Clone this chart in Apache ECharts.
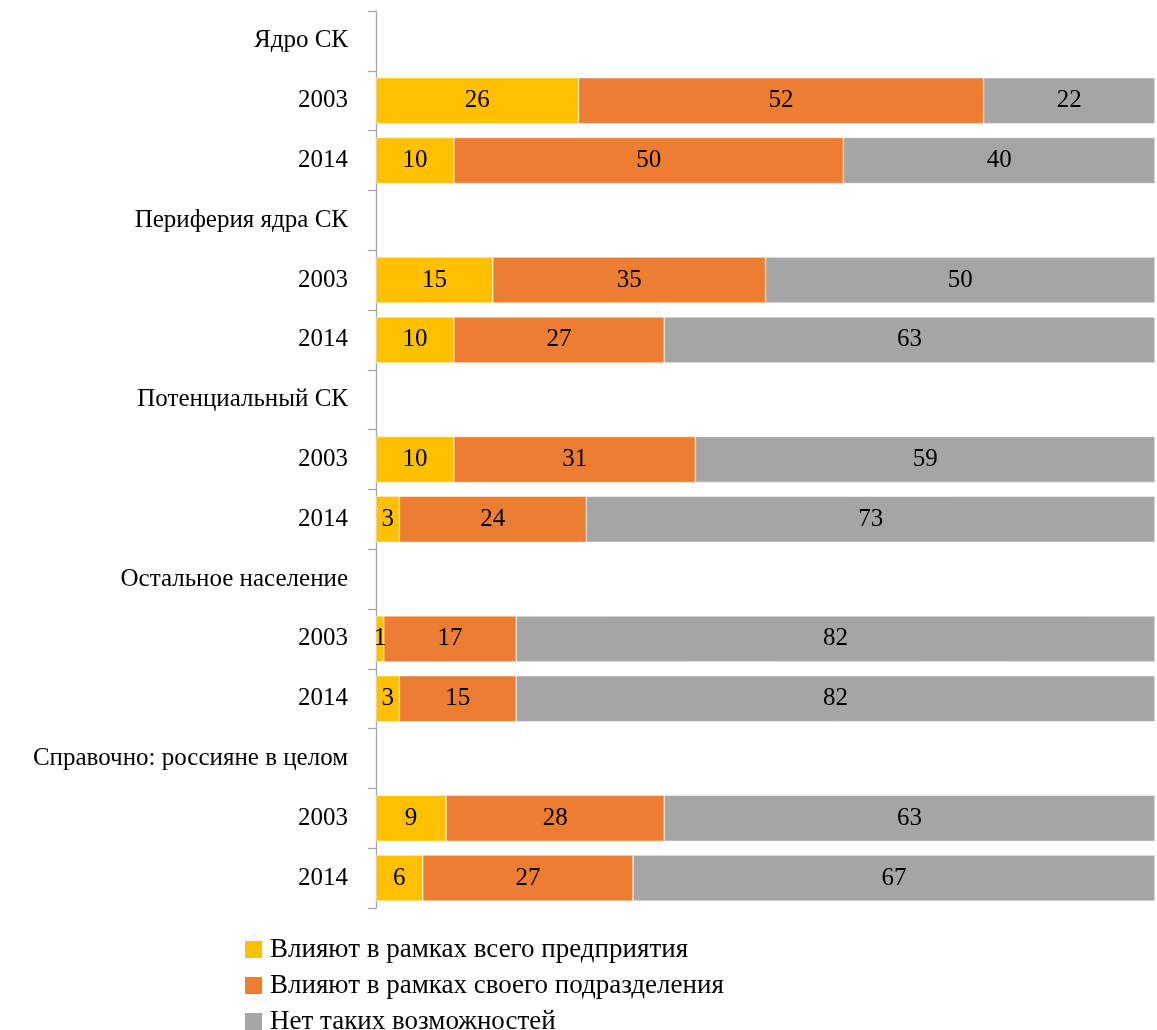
<!DOCTYPE html>
<html><head><meta charset="utf-8">
<script src="https://cdn.jsdelivr.net/npm/echarts@6/dist/echarts.min.js"></script>
<style>html,body{margin:0;padding:0;background:#fff}#c{width:1157px;height:1030px}</style>
</head><body><div id="c"></div>
<script>
const categories = ['Ядро СК','2003','2014','Периферия ядра СК','2003','2014','Потенциальный СК','2003','2014','Остальное население','2003','2014','Справочно: россияне в целом','2003','2014'];
const seriesNames = ['Влияют в рамках всего предприятия','Влияют в рамках своего подразделения','Нет таких возможностей'];
const enterprise = [null,26,10,null,15,10,null,10,3,null,1,3,null,9,6];
const department = [null,52,50,null,35,27,null,31,24,null,17,15,null,28,27];
const none = [null,22,40,null,50,63,null,59,73,null,82,82,null,63,67];
const colors = ['#FFC000','#ED7D31','#A5A5A5'];
const FONT = '"Liberation Serif", "DejaVu Serif", serif';
const chart = echarts.init(document.getElementById('c'));
const mk = (name, data, color) => ({
  name, type:'bar', stack:'s', data, barWidth:46,
  itemStyle:{color, borderColor:'#fff', borderWidth:0.5},
  label:{show:true, position:'inside', color:'#000', fontFamily:FONT, fontSize:25},
  emphasis:{disabled:true}
});
chart.setOption({
  animation:false,
  grid:{left:376, right:2, top:11, bottom:122},
  xAxis:{type:'value', min:0, max:100, show:false},
  yAxis:{type:'category', data:categories, inverse:true,
    axisLine:{show:true, lineStyle:{color:'#A6A6A6', width:1.3}},
    axisTick:{show:true, length:8, lineStyle:{color:'#A6A6A6', width:1.3}},
    axisLabel:{margin:28, color:'#000', fontFamily:FONT, fontSize:25}},
  legend:{orient:'vertical', left:245, top:936, height:200, padding:0, itemWidth:17, itemHeight:17, itemGap:9,
    icon:'rect', data:seriesNames, itemStyle:{borderWidth:0},
    textStyle:{color:'#000', fontFamily:FONT, fontSize:27, lineHeight:17, padding:[0,0,0,3]}},
  series:[mk(seriesNames[0], enterprise, colors[0]), mk(seriesNames[1], department, colors[1]), mk(seriesNames[2], none, colors[2])]
});
</script></body></html>
